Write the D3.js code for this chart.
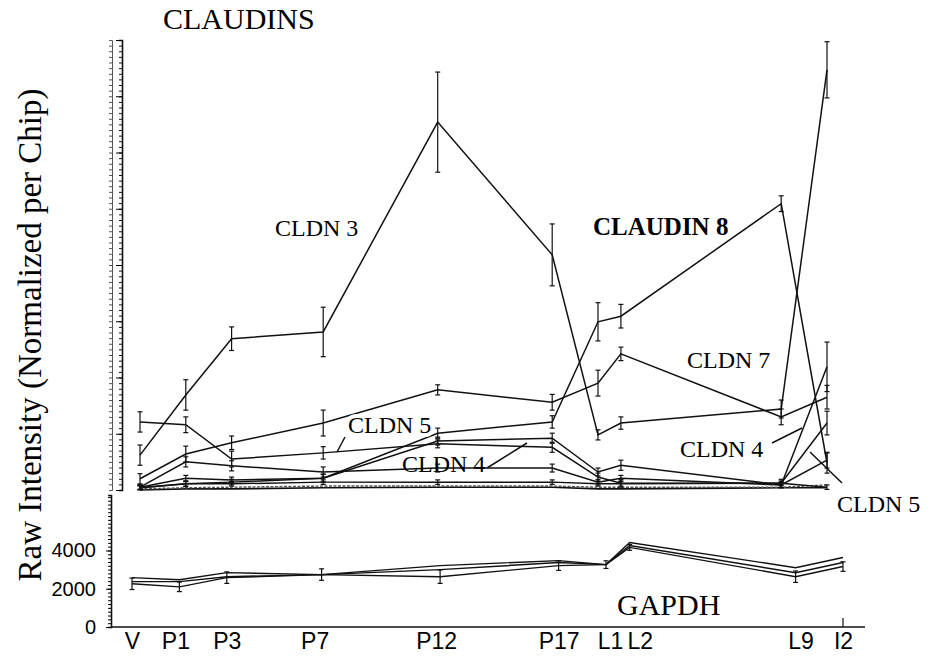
<!DOCTYPE html>
<html><head><meta charset="utf-8">
<script src="https://cdn.jsdelivr.net/npm/d3@7"></script>
<style>
html,body{margin:0;padding:0;background:#fff;}
svg{display:block;}
</style></head>
<body>
<svg id="chart" width="932" height="657"></svg>
<script>
// ---- data ----
const stages = ["V","P1","P3","P7","P12","P17","L1","L2","L9","I2"];
const days   = [-1, 1, 3, 7, 12, 17, 19, 20, 27, 29];

// Claudin raw intensities (arbitrary units)
const cldn3     = [620,1690,2690,2810,6540,4180,980,1190,1440,7470];
const cldn3Err  = [180,270,210,440,890,550,90,110,160,500];
const cldn8     = [40,110,140,210,1010,1210,2990,3090,5090,480];
const cldn8Err  = [40,50,50,70,90,110,340,210,140,180];
const cldn7     = [200,640,840,1190,1780,1560,1900,2420,1300,1650];
const cldn7Err  = [90,140,120,230,90,140,230,120,140,210];
const cldn5     = [1210,1160,550,660,820,760,230,120,120,1190];
const cldn5Err  = [180,140,140,110,70,90,70,70,70,210];
const cldn4     = [50,210,180,210,870,920,320,440,90,2190];
const cldn4Err  = [40,50,50,70,70,90,70,90,50,440];
const cldnA     = [50,500,430,320,390,390,140,210,90,530];
const cldnAErr  = [40,90,90,90,70,70,50,50,50,140];
const cldnB     = [40,110,110,140,140,140,110,110,120,50];
const cldnBErr  = [30,40,40,40,40,40,40,40,40,40];
const cldnC     = [20,40,50,70,70,70,50,50,50,90];
const cldnD     = [0,20,20,40,50,50,20,20,40,40];

// GAPDH
const gapdh1 = [2580,2470,2840,2740,3210,3470,3260,4420,3100,3630];
const gapdh2 = [2370,2370,2630,2740,3000,3370,3260,4260,2840,3370];
const gapdh3 = [2260,2100,2580,2740,2630,3210,3260,4160,2630,3160];
const gapdhErr = [300,250,300,300,350,250,200,150,300,250];
const gapdhTicks = [0,2000,4000];

// ---- drawing ----
const svg = d3.select("#chart");
const xU = d3.scaleLinear().domain([-1,29]).range([140,827]);
const yU = d3.scaleLinear().domain([0,8000]).range([490,40]);
const xL = d3.scaleLinear().domain([-1,29]).range([132,843]);
const yL = d3.scaleLinear().domain([0,6900]).range([627,495]);

// upper axis (no readable labels)
const gU = svg.append("g").attr("transform","translate(122,0)");
gU.call(d3.axisLeft(yU).tickValues(d3.range(0,8001,100)).tickSize(3).tickFormat(""));
gU.selectAll(".tick line").attr("stroke","#111");
gU.select(".domain").attr("stroke-width",1.6).attr("stroke","#111");
const gU2 = svg.append("g").attr("transform","translate(122,0)");
gU2.call(d3.axisLeft(yU).tickValues(d3.range(0,8001,1000)).tickSize(6).tickFormat(""));
gU2.select(".domain").remove();
// faint secondary tick column (scanned label column)
const gU3 = svg.append("g").attr("transform","translate(112,0)");
gU3.call(d3.axisLeft(yU).tickValues(d3.range(0,8001,100)).tickSize(3).tickFormat(""));
gU3.select(".domain").attr("stroke","#555");
gU3.selectAll(".tick line").attr("stroke","#555");

function lineGen(x,y){ return d3.line().x((d,i)=>x(days[i])).y(d=>y(d)); }

function drawSeries(vals, errs, x, y, opts={}){
  const g = svg.append("g");
  g.append("path").datum(vals)
    .attr("d", lineGen(x,y))
    .attr("fill","none")
    .attr("stroke", opts.color||"#111")
    .attr("stroke-width", opts.width||1.5)
    .attr("stroke-dasharray", opts.dash||null);
  if(errs){
    vals.forEach((v,i)=>{
      const cx = x(days[i]), y1 = y(v-errs[i]), y2 = y(v+errs[i]);
      g.append("line").attr("x1",cx).attr("x2",cx).attr("y1",y1).attr("y2",y2)
        .attr("stroke","#111").attr("stroke-width",1.2);
      [y1,y2].forEach(yy=>g.append("line").attr("x1",cx-2.5).attr("x2",cx+2.5)
        .attr("y1",yy).attr("y2",yy).attr("stroke","#111").attr("stroke-width",1.2));
    });
  }
}

drawSeries(cldnD, null, xU, yU, {width:1.6});
drawSeries(cldnC, null, xU, yU, {color:"#555", dash:"3,1.5", width:1.4});
drawSeries(cldnB, cldnBErr, xU, yU);
drawSeries(cldnA, cldnAErr, xU, yU);
drawSeries(cldn4, cldn4Err, xU, yU);
drawSeries(cldn5, cldn5Err, xU, yU);
drawSeries(cldn7, cldn7Err, xU, yU);
drawSeries(cldn8, cldn8Err, xU, yU);
drawSeries(cldn3, cldn3Err, xU, yU);

// lower panel axes
const gL = svg.append("g").attr("transform","translate(111,0)");
gL.call(d3.axisLeft(yL).tickValues(d3.range(0,6801,200)).tickSize(3).tickFormat(""));
gL.select(".domain").attr("stroke-width",1.6).attr("stroke","#111");
const gL2 = svg.append("g").attr("transform","translate(111,0)");
gL2.call(d3.axisLeft(yL).tickValues(gapdhTicks).tickSize(5).tickPadding(10).tickFormat(d3.format("d")));
gL2.select(".domain").remove();
gL2.selectAll("text").attr("font-size",20).attr("fill","#000")
   .attr("font-family","Liberation Sans, Arial, sans-serif");

svg.append("line").attr("x1",111).attr("x2",865).attr("y1",yL(0)).attr("y2",yL(0))
  .attr("stroke","#111").attr("stroke-width",1.6);
const labelShift = {"P1":-4,"P7":-7,"P12":-4,"L1":4,"L2":10,"L9":5};
const gX = svg.append("g").attr("transform",`translate(0,${yL(0)})`);
gX.call(d3.axisBottom(xL).tickValues(days).tickSize(0).tickPadding(6)
   .tickFormat((d,i)=>stages[i]));
gX.select(".domain").remove();
gX.selectAll("text").attr("font-size",23).attr("fill","#000")
   .attr("font-family","Liberation Sans, Arial, sans-serif")
   .attr("dx",(d,i)=>labelShift[stages[i]]||0);
// small tick at last stage
svg.append("line").attr("x1",xL(days[9])).attr("x2",xL(days[9]))
  .attr("y1",yL(0)-9).attr("y2",yL(0)).attr("stroke","#111").attr("stroke-width",1.2);

drawSeries(gapdh3, gapdhErr, xL, yL, {width:1.4});
drawSeries(gapdh2, null, xL, yL, {width:1.4});
drawSeries(gapdh1, null, xL, yL, {width:1.4});

// ---- text ----
const serif = "Liberation Serif, Times New Roman, serif";
function txt(s,x,y,size,opts={}){
  const t = svg.append("text").attr("x",x).attr("y",y).text(s)
    .attr("font-family",serif).attr("font-size",size).attr("fill","#000")
    .attr("font-weight",opts.bold?"bold":"normal")
    .attr("text-anchor",opts.anchor||"start");
  if(opts.halo){ t.attr("stroke","#fff").attr("stroke-width",8).attr("paint-order","stroke"); }
  return t;
}
txt("CLAUDINS",163,29,30);
txt("GAPDH",617,615,30);
txt("CLDN 3",275,236,24);
txt("CLAUDIN 8",593,235,25,{bold:true, halo:true});
txt("CLDN 7",687,368,24);
txt("CLDN 5",348,433,24,{halo:true});
txt("CLDN 4",402,472,24);
txt("CLDN 4",680,457,24);
txt("CLDN 5",837,512,24);

svg.append("text")
  .attr("transform","translate(41,335) rotate(-90)")
  .attr("text-anchor","middle")
  .attr("font-family",serif).attr("font-size",33).attr("fill","#000")
  .text("Raw Intensity (Normalized per Chip)");

// pointer lines
const pointers = [[337,452,345,437],[487,468,527,443],[772,443,802,428],[810,452,842,483]];
pointers.forEach(p=>svg.append("line").attr("x1",p[0]).attr("y1",p[1]).attr("x2",p[2]).attr("y2",p[3])
  .attr("stroke","#111").attr("stroke-width",1.5));
</script>
</body></html>
